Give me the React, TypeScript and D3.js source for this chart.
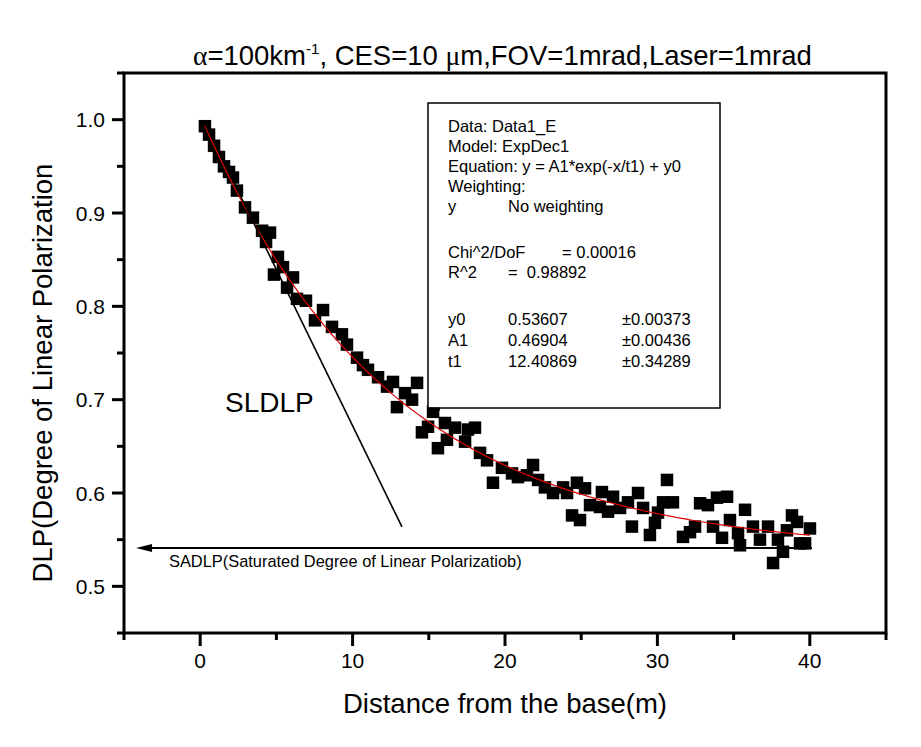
import React from "react";
import * as d3 from "d3";

// ---- data ----
const distance = [
  0.31, 0.58, 0.91, 1.23, 1.56, 1.89, 2.15, 2.41, 2.94, 3.46, 4.06, 4.32, 4.58, 5.10, 5.43, 4.84,
  6.09, 5.70, 6.35, 6.94, 7.53, 8.06, 8.65, 9.30, 9.63, 10.29, 10.68, 11.01, 11.67, 12.26, 12.65,
  12.91, 13.44, 13.90, 14.23, 14.55, 14.95, 15.28, 15.60, 16.06, 16.19, 16.72, 17.38, 17.57, 18.03,
  18.36, 18.82, 19.21, 19.80, 20.46, 20.85, 21.44, 21.84, 22.17, 22.62, 23.15, 23.81, 24.07, 24.40,
  24.72, 24.92, 25.25, 25.58, 26.23, 26.36, 26.76, 27.09, 27.55, 28.07, 28.33, 28.73, 29.06, 29.51,
  29.84, 30.04, 30.37, 30.63, 31.02, 31.68, 32.14, 32.47, 32.80, 33.32, 33.65, 33.91, 34.24, 34.57,
  34.76, 35.29, 35.42, 35.75, 36.27, 36.73, 37.26, 37.59, 37.91, 38.24, 38.50, 38.83, 39.16, 39.36,
  39.69, 40.01,
];
const dlp = [
  0.993, 0.984, 0.972, 0.960, 0.950, 0.944, 0.938, 0.924, 0.906, 0.895, 0.881, 0.869, 0.879, 0.853,
  0.842, 0.834, 0.831, 0.820, 0.808, 0.806, 0.785, 0.796, 0.778, 0.770, 0.759, 0.745, 0.737, 0.732,
  0.724, 0.714, 0.719, 0.692, 0.707, 0.700, 0.718, 0.665, 0.671, 0.687, 0.648, 0.675, 0.657, 0.670,
  0.655, 0.668, 0.670, 0.643, 0.635, 0.611, 0.627, 0.621, 0.617, 0.619, 0.630, 0.614, 0.606, 0.600,
  0.606, 0.600, 0.576, 0.611, 0.571, 0.605, 0.587, 0.585, 0.601, 0.580, 0.596, 0.584, 0.590, 0.564,
  0.600, 0.584, 0.555, 0.568, 0.579, 0.590, 0.614, 0.590, 0.553, 0.558, 0.564, 0.589, 0.587, 0.564,
  0.595, 0.552, 0.596, 0.571, 0.557, 0.544, 0.582, 0.564, 0.550, 0.564, 0.525, 0.550, 0.537, 0.560,
  0.576, 0.569, 0.546, 0.546, 0.562,
];

// fit parameters (ExpDec1)
const fitY0 = 0.53607;
const fitA1 = 0.46904;
const fitT1 = 12.40869;
const fitRange = [0.3, 40.0];

// annotation lines
const sldlpLine = [
  [0.38, 0.994],
  [13.24, 0.5636],
];
const sadlpLevel = 0.541;
const sadlpRange = [40.14, -4.21];

const xMajorTicks = [0, 10, 20, 30, 40];
const xMinorTicks = [-5, 5, 15, 25, 35, 45];
const yMajorTicks = [0.5, 0.6, 0.7, 0.8, 0.9, 1.0];
const yMinorTicks = [0.45, 0.55, 0.65, 0.75, 0.85, 0.95, 1.05];

const legendRows = [
  ["Data: Data1_E", "", ""],
  ["Model: ExpDec1", "", ""],
  ["Equation: y = A1*exp(-x/t1) + y0", "", ""],
  ["Weighting:", "", ""],
  ["y", "No weighting", ""],
  ["Chi^2/DoF", "", "= 0.00016"],
  ["R^2", "=  0.98892", ""],
  ["y0", "0.53607", "\u00B10.00373"],
  ["A1", "0.46904", "\u00B10.00436"],
  ["t1", "12.40869", "\u00B10.34289"],
];
const legendBaselines = [132, 152, 172, 192, 212, 258, 278, 325, 346, 367];

const SANS = "'Liberation Sans', Arial, sans-serif";
const SERIF = "'Liberation Serif', 'Times New Roman', serif";

export default function App() {
  const W = 921;
  const H = 747;
  const x = d3.scaleLinear().domain([-5, 45]).range([124, 886]);
  const y = d3.scaleLinear().domain([0.45, 1.05]).range([633, 73]);

  const fitPts = d3.range(fitRange[0], fitRange[1] + 0.001, 0.1).map((t) => [
    t,
    fitY0 + fitA1 * Math.exp(-t / fitT1),
  ]);
  const line = d3
    .line<number[]>()
    .x((d) => x(d[0]))
    .y((d) => y(d[1]));

  const ms = 12.5;
  const legendCols = [448, 508, 562];

  return (
    <svg
      width={W}
      height={H}
      style={{ position: "absolute", left: 0, top: 0, background: "#fff" }}
      fontFamily={SANS}
    >
      <rect x={0} y={0} width={W} height={H} fill="#fff" />
      {/* title */}
      <text x={193} y={65} fontSize={27.5} fill="#000">
        <tspan fontFamily={SERIF}>α</tspan>
        <tspan>=100km</tspan>
        <tspan fontSize={15} dy={-11}>-1</tspan>
        <tspan dy={11}>, CES=10 </tspan>
        <tspan fontFamily={SERIF}>μ</tspan>
        <tspan>m,FOV=1mrad,Laser=1mrad</tspan>
      </text>

      {/* frame */}
      <rect x={124} y={73} width={762} height={560} fill="none" stroke="#000" strokeWidth={3} />

      {/* y ticks */}
      {yMajorTicks.map((t) => (
        <g key={"ym" + t}>
          <line x1={112} x2={124} y1={y(t)} y2={y(t)} stroke="#000" strokeWidth={3} />
          <text x={105} y={y(t) + 7.5} fontSize={21} textAnchor="end">
            {t.toFixed(1)}
          </text>
        </g>
      ))}
      {yMinorTicks.map((t) => (
        <line key={"yn" + t} x1={117} x2={124} y1={y(t)} y2={y(t)} stroke="#000" strokeWidth={3} />
      ))}
      {/* x ticks */}
      {xMajorTicks.map((t) => (
        <g key={"xm" + t}>
          <line x1={x(t)} x2={x(t)} y1={633} y2={646} stroke="#000" strokeWidth={3} />
          <text x={x(t)} y={668} fontSize={21} textAnchor="middle">
            {t}
          </text>
        </g>
      ))}
      {xMinorTicks.map((t) => (
        <line key={"xn" + t} x1={x(t)} x2={x(t)} y1={633} y2={640} stroke="#000" strokeWidth={3} />
      ))}

      {/* axis titles */}
      <text x={505} y={713} fontSize={27.5} textAnchor="middle">
        Distance from the base(m)
      </text>
      <text transform="translate(52,373) rotate(-90)" fontSize={27.5} textAnchor="middle">
        DLP(Degree of Linear Polarization
      </text>

      {/* data markers */}
      {distance.map((d, i) => (
        <rect
          key={"p" + i}
          x={x(d) - ms / 2}
          y={y(dlp[i]) - ms / 2}
          width={ms}
          height={ms}
          fill="#000"
        />
      ))}

      {/* fit curve */}
      <path d={line(fitPts) || ""} fill="none" stroke="#e00000" strokeWidth={1.2} />

      {/* SLDLP tangent */}
      <line
        x1={x(sldlpLine[0][0])}
        y1={y(sldlpLine[0][1])}
        x2={x(sldlpLine[1][0])}
        y2={y(sldlpLine[1][1])}
        stroke="#000"
        strokeWidth={1.6}
      />
      <text x={225} y={412} fontSize={28}>
        SLDLP
      </text>

      {/* SADLP arrow */}
      <line
        x1={x(sadlpRange[0])}
        x2={x(sadlpRange[1]) + 14}
        y1={y(sadlpLevel)}
        y2={y(sadlpLevel)}
        stroke="#000"
        strokeWidth={2}
      />
      <path
        d={`M${x(sadlpRange[1])},${y(sadlpLevel)} L${x(sadlpRange[1]) + 16},${y(sadlpLevel) - 4} L${
          x(sadlpRange[1]) + 16
        },${y(sadlpLevel) + 4} Z`}
        fill="#000"
      />
      <text x={169} y={567} fontSize={16.4}>
        SADLP(Saturated Degree of Linear Polarizatiob)
      </text>

      {/* legend box */}
      <rect x={428} y={103} width={292} height={305} fill="#fff" stroke="#000" strokeWidth={1.5} />
      <line x1={428} x2={440} y1={409} y2={409} stroke="#000" strokeWidth={3} />
      {legendRows.map((row, i) => (
        <g key={"lg" + i}>
          {row[0] && (
            <text x={legendCols[0]} y={legendBaselines[i]} fontSize={16.5}>
              {row[0]}
            </text>
          )}
          {row[1] && (
            <text x={legendCols[1]} y={legendBaselines[i]} fontSize={16.5} style={{ whiteSpace: "pre" }}>
              {row[1]}
            </text>
          )}
          {row[2] && (
            <text
              x={i === 5 ? legendCols[2] : 622}
              y={legendBaselines[i]}
              fontSize={16.5}
              style={{ whiteSpace: "pre" }}
            >
              {row[2]}
            </text>
          )}
        </g>
      ))}
    </svg>
  );
}
